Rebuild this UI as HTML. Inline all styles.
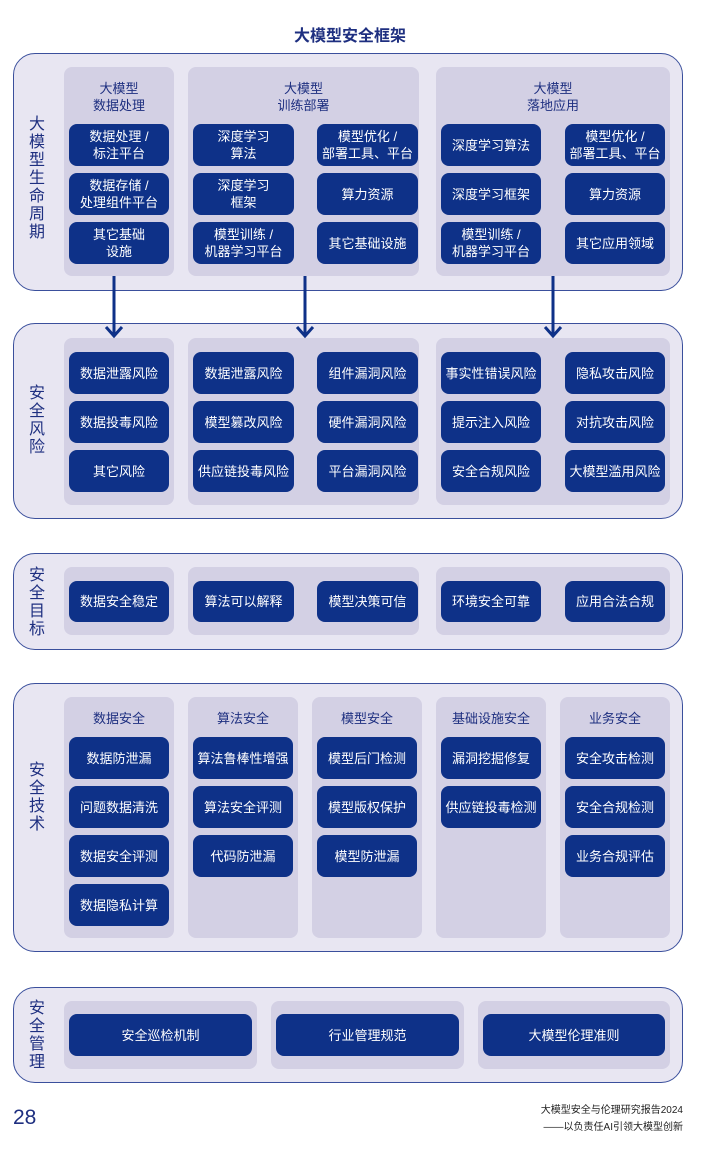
<!DOCTYPE html>
<html><head><meta charset="utf-8"><style>
*{margin:0;padding:0;box-sizing:border-box}
body{width:720px;height:1154px;background:#fff;position:relative;font-family:"Liberation Sans","Noto Sans CJK SC",sans-serif;overflow:hidden}
.sec{position:absolute;left:13px;width:670px;background:#e8e6f2;border:1.5px solid #3a4f9c;border-radius:22px}
.col{position:absolute;background:#d3d0e4;border-radius:8px}
.b{position:absolute;background:#0e3188;color:#fff;border-radius:8px;display:flex;align-items:center;justify-content:center;text-align:center;font-size:13px;line-height:17px}
.h{position:absolute;color:#1e2f80;font-size:13px;line-height:17px;text-align:center}
.v{position:absolute;left:26px;width:22px;color:#1e2f80;font-size:16px;line-height:18px;text-align:center}
.t{position:absolute;color:#1e2f80}
</style></head><body>
<div class="t" style="left:0;width:700px;top:22px;text-align:center;font-size:16px;font-weight:bold">大模型安全框架</div>

<!-- section1 -->
<div class="sec" style="top:53px;height:238px"></div>
<div class="v" style="top:116px">大<br>模<br>型<br>生<br>命<br>周<br>期</div>
<div class="col" style="left:64px;top:67px;width:110px;height:209px"></div>
<div class="col" style="left:188px;top:67px;width:231px;height:209px"></div>
<div class="col" style="left:436px;top:67px;width:234px;height:209px"></div>
<div class="h" style="left:64px;width:110px;top:80px">大模型<br>数据处理</div>
<div class="h" style="left:188px;width:231px;top:80px">大模型<br>训练部署</div>
<div class="h" style="left:436px;width:234px;top:80px">大模型<br>落地应用</div>
<div class="b" style="left:69px;top:124px;width:100px;height:42px">数据处理 /<br>标注平台</div>
<div class="b" style="left:69px;top:173px;width:100px;height:42px">数据存储 /<br>处理组件平台</div>
<div class="b" style="left:69px;top:222px;width:100px;height:42px">其它基础<br>设施</div>
<div class="b" style="left:193px;top:124px;width:101px;height:42px">深度学习<br>算法</div>
<div class="b" style="left:193px;top:173px;width:101px;height:42px">深度学习<br>框架</div>
<div class="b" style="left:193px;top:222px;width:101px;height:42px">模型训练 /<br>机器学习平台</div>
<div class="b" style="left:317px;top:124px;width:101px;height:42px">模型优化 /<br>部署工具、平台</div>
<div class="b" style="left:317px;top:173px;width:101px;height:42px">算力资源</div>
<div class="b" style="left:317px;top:222px;width:101px;height:42px">其它基础设施</div>
<div class="b" style="left:441px;top:124px;width:100px;height:42px">深度学习算法</div>
<div class="b" style="left:441px;top:173px;width:100px;height:42px">深度学习框架</div>
<div class="b" style="left:441px;top:222px;width:100px;height:42px">模型训练 /<br>机器学习平台</div>
<div class="b" style="left:565px;top:124px;width:100px;height:42px">模型优化 /<br>部署工具、平台</div>
<div class="b" style="left:565px;top:173px;width:100px;height:42px">算力资源</div>
<div class="b" style="left:565px;top:222px;width:100px;height:42px">其它应用领域</div>

<!-- section2 -->
<div class="sec" style="top:323px;height:196px"></div>
<div class="v" style="top:385px">安<br>全<br>风<br>险</div>
<div class="col" style="left:64px;top:338px;width:110px;height:167px"></div>
<div class="col" style="left:188px;top:338px;width:231px;height:167px"></div>
<div class="col" style="left:436px;top:338px;width:234px;height:167px"></div>
<div class="b" style="left:69px;top:352px;width:100px;height:42px">数据泄露风险</div>
<div class="b" style="left:69px;top:401px;width:100px;height:42px">数据投毒风险</div>
<div class="b" style="left:69px;top:450px;width:100px;height:42px">其它风险</div>
<div class="b" style="left:193px;top:352px;width:101px;height:42px">数据泄露风险</div>
<div class="b" style="left:193px;top:401px;width:101px;height:42px">模型篡改风险</div>
<div class="b" style="left:193px;top:450px;width:101px;height:42px">供应链投毒风险</div>
<div class="b" style="left:317px;top:352px;width:101px;height:42px">组件漏洞风险</div>
<div class="b" style="left:317px;top:401px;width:101px;height:42px">硬件漏洞风险</div>
<div class="b" style="left:317px;top:450px;width:101px;height:42px">平台漏洞风险</div>
<div class="b" style="left:441px;top:352px;width:100px;height:42px">事实性错误风险</div>
<div class="b" style="left:441px;top:401px;width:100px;height:42px">提示注入风险</div>
<div class="b" style="left:441px;top:450px;width:100px;height:42px">安全合规风险</div>
<div class="b" style="left:565px;top:352px;width:100px;height:42px">隐私攻击风险</div>
<div class="b" style="left:565px;top:401px;width:100px;height:42px">对抗攻击风险</div>
<div class="b" style="left:565px;top:450px;width:100px;height:42px">大模型滥用风险</div>

<svg style="position:absolute;left:0;top:0" width="720" height="400">
<g stroke="#0e3188" stroke-width="3" fill="none">
<line x1="114" y1="276" x2="114" y2="336"/><polyline points="106,327 114,336 122,327"/>
<line x1="305" y1="276" x2="305" y2="336"/><polyline points="297,327 305,336 313,327"/>
<line x1="553" y1="276" x2="553" y2="336"/><polyline points="545,327 553,336 561,327"/>
</g></svg>

<!-- section3 -->
<div class="sec" style="top:553px;height:97px"></div>
<div class="v" style="top:567px">安<br>全<br>目<br>标</div>
<div class="col" style="left:64px;top:567px;width:110px;height:68px"></div>
<div class="col" style="left:188px;top:567px;width:231px;height:68px"></div>
<div class="col" style="left:436px;top:567px;width:234px;height:68px"></div>
<div class="b" style="left:69px;top:581px;width:100px;height:41px">数据安全稳定</div>
<div class="b" style="left:193px;top:581px;width:101px;height:41px">算法可以解释</div>
<div class="b" style="left:317px;top:581px;width:101px;height:41px">模型决策可信</div>
<div class="b" style="left:441px;top:581px;width:100px;height:41px">环境安全可靠</div>
<div class="b" style="left:565px;top:581px;width:100px;height:41px">应用合法合规</div>

<!-- section4 -->
<div class="sec" style="top:683px;height:269px"></div>
<div class="v" style="top:762px">安<br>全<br>技<br>术</div>
<div class="col" style="left:64px;top:697px;width:110px;height:241px"></div>
<div class="col" style="left:188px;top:697px;width:110px;height:241px"></div>
<div class="col" style="left:312px;top:697px;width:110px;height:241px"></div>
<div class="col" style="left:436px;top:697px;width:110px;height:241px"></div>
<div class="col" style="left:560px;top:697px;width:110px;height:241px"></div>
<div class="h" style="left:64px;width:110px;top:710px">数据安全</div>
<div class="h" style="left:188px;width:110px;top:710px">算法安全</div>
<div class="h" style="left:312px;width:110px;top:710px">模型安全</div>
<div class="h" style="left:436px;width:110px;top:710px">基础设施安全</div>
<div class="h" style="left:560px;width:110px;top:710px">业务安全</div>
<div class="b" style="left:69px;top:737px;width:100px;height:42px">数据防泄漏</div>
<div class="b" style="left:69px;top:786px;width:100px;height:42px">问题数据清洗</div>
<div class="b" style="left:69px;top:835px;width:100px;height:42px">数据安全评测</div>
<div class="b" style="left:69px;top:884px;width:100px;height:42px">数据隐私计算</div>
<div class="b" style="left:193px;top:737px;width:100px;height:42px">算法鲁棒性增强</div>
<div class="b" style="left:193px;top:786px;width:100px;height:42px">算法安全评测</div>
<div class="b" style="left:193px;top:835px;width:100px;height:42px">代码防泄漏</div>
<div class="b" style="left:317px;top:737px;width:100px;height:42px">模型后门检测</div>
<div class="b" style="left:317px;top:786px;width:100px;height:42px">模型版权保护</div>
<div class="b" style="left:317px;top:835px;width:100px;height:42px">模型防泄漏</div>
<div class="b" style="left:441px;top:737px;width:100px;height:42px">漏洞挖掘修复</div>
<div class="b" style="left:441px;top:786px;width:100px;height:42px">供应链投毒检测</div>
<div class="b" style="left:565px;top:737px;width:100px;height:42px">安全攻击检测</div>
<div class="b" style="left:565px;top:786px;width:100px;height:42px">安全合规检测</div>
<div class="b" style="left:565px;top:835px;width:100px;height:42px">业务合规评估</div>

<!-- section5 -->
<div class="sec" style="top:987px;height:96px"></div>
<div class="v" style="top:1000px">安<br>全<br>管<br>理</div>
<div class="col" style="left:64px;top:1001px;width:193px;height:68px"></div>
<div class="col" style="left:271px;top:1001px;width:193px;height:68px"></div>
<div class="col" style="left:478px;top:1001px;width:192px;height:68px"></div>
<div class="b" style="left:69px;top:1014px;width:183px;height:42px">安全巡检机制</div>
<div class="b" style="left:276px;top:1014px;width:183px;height:42px">行业管理规范</div>
<div class="b" style="left:483px;top:1014px;width:182px;height:42px">大模型伦理准则</div>

<div class="t" style="left:13px;top:1106px;font-size:21px;line-height:24px">28</div>
<div style="position:absolute;right:37px;top:1102px;text-align:right;font-size:10px;line-height:17px;color:#222">大模型安全与伦理研究报告2024<br>——以负责任AI引领大模型创新</div>
</body></html>
